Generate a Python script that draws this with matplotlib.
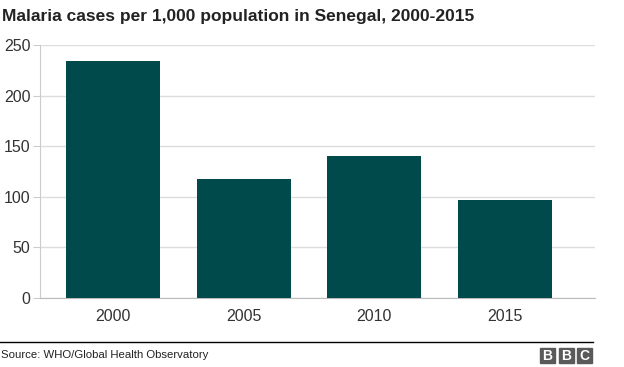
import matplotlib
matplotlib.use("Agg")
import matplotlib.pyplot as plt
from matplotlib.patches import Rectangle
from matplotlib.lines import Line2D

years = ["2000", "2005", "2010", "2015"]
cases = [234, 118, 140, 97]
yticks = [0, 50, 100, 150, 200, 250]

W, H = 624, 367
fig = plt.figure(figsize=(W/100, H/100), dpi=100)
plt.rcParams['font.family'] = ['Liberation Sans', 'DejaVu Sans']

ax = fig.add_axes([40/W, 1-298/H, (595-40)/W, (298-45)/H])
x = range(len(years))
ax.bar(x, cases, width=0.72, color="#004a4b", zorder=3)
ax.set_xlim(-0.56, 3.69)
ax.set_ylim(0, 250)
ax.set_yticks(yticks)
ax.set_yticklabels([str(v) for v in yticks], fontsize=11.5, color="#333333")
ax.set_xticks(list(x))
ax.set_xticklabels(years, fontsize=11.5, color="#333333")
ax.tick_params(axis='x', length=0, pad=8)
ax.tick_params(axis='y', length=5, color="#cccccc", pad=2)
ax.grid(axis='y', color="#dddddd", linewidth=1, zorder=0)
for s in ["top", "right"]:
    ax.spines[s].set_visible(False)
ax.spines["left"].set_color("#cccccc")
ax.spines["bottom"].set_color("#bbbbbb")

fig.text(2/W, 1-17/H, "Malaria cases per 1,000 population in Senegal, 2000-2015",
         fontsize=12.5, fontweight='bold', color="#222222", va='center', ha='left')

fig.add_artist(Line2D([0, 593/W], [1-342/H, 1-342/H], color="black", linewidth=1))
fig.text(1/W, 1-355/H, "Source: WHO/Global Health Observatory", fontsize=8.2,
         color="#222222", va='center', ha='left')

for i, letter in enumerate("BBC"):
    x0 = 540 + i*18.5
    fig.add_artist(Rectangle((x0/W, 1-363/H), 15/W, 15/H, color="#5a5a5a",
                             transform=fig.transFigure))
    fig.text((x0+7.5)/W, 1-355.5/H, letter, fontsize=10, fontweight='bold',
             color="white", ha='center', va='center')

fig.savefig("out.png", dpi=100)
